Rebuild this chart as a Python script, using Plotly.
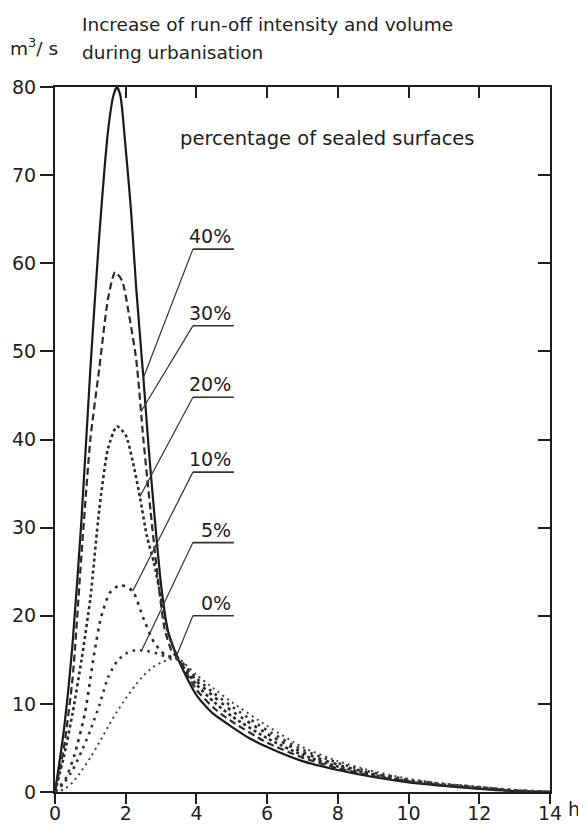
import numpy as np
import plotly.graph_objects as go

# ---------------- data ----------------
labels = ["40%", "30%", "20%", "10%", "5%", "0%"]

hours_40 = [0, 0.25, 0.5, 0.75, 1.0, 1.25, 1.5, 1.65, 1.75, 1.85, 2.0, 2.15, 2.3, 2.5, 2.65,
            2.8, 3.0, 3.2, 3.5, 3.75, 4.0, 4.25, 4.5, 5.0, 5.5, 6.0, 7.0, 8.0, 9.0, 10.0,
            11.0, 12.0, 13.0, 14.0]
flow_40 = [0, 7, 17, 31, 48, 63, 75, 79, 80, 79, 73, 66, 57, 47, 39,
           32, 23.5, 18.2, 14.9, 12.8, 11, 9.8, 8.8, 7.4, 6.1, 5.1, 3.5, 2.5, 1.7, 1.1,
           0.7, 0.35, 0.1, 0]

hours_30 = [0, 0.25, 0.5, 0.75, 1.0, 1.25, 1.5, 1.7, 1.9, 2.1, 2.3, 2.5, 2.7, 2.9, 3.1,
            3.3, 3.5, 4.0, 4.5, 5.0, 6.0, 7.0, 8.0, 9.0, 10.0, 11.0, 12.0, 13.0, 14.0]
flow_30 = [0, 5, 13, 27, 40, 48, 56, 59, 58, 54, 49, 40, 32, 24.5, 18.5,
           16, 15, 11.6, 9.5, 8, 5.6, 3.9, 2.7, 1.8, 1.2, 0.75, 0.4, 0.12, 0]

hours_20 = [0, 0.25, 0.5, 0.75, 1.0, 1.25, 1.5, 1.75, 2.0, 2.2, 2.4, 2.6, 2.8, 3.0, 3.2,
            3.5, 4.0, 4.5, 5.0, 6.0, 7.0, 8.0, 9.0, 10.0, 11.0, 12.0, 13.0, 14.0]
flow_20 = [0, 4, 9, 15, 22, 32, 39, 41.5, 40.5, 37.5, 33.5, 29, 26, 22, 18,
           15, 12.2, 10.2, 8.6, 6.1, 4.2, 2.9, 1.95, 1.25, 0.8, 0.45, 0.15, 0]

hours_10 = [0, 0.3, 0.55, 0.85, 1.1, 1.3, 1.55, 1.85, 2.2, 2.5, 2.8, 3.1, 3.5, 4.0, 4.5,
            5.0, 6.0, 7.0, 8.0, 9.0, 10.0, 11.0, 12.0, 13.0, 14.0]
flow_10 = [0, 1.5, 4.2, 9, 15.5, 19.8, 22.6, 23.5, 22.8, 19.7, 17, 15.6, 15, 12.6, 10.8,
           9.2, 6.6, 4.5, 3.1, 2.05, 1.3, 0.85, 0.5, 0.18, 0]

hours_5 = [0, 0.25, 0.5, 0.75, 1.0, 1.25, 1.5, 1.75, 2.0, 2.3, 2.6, 2.9, 3.2, 3.5, 4.0,
           4.5, 5.0, 6.0, 7.0, 8.0, 9.0, 10.0, 11.0, 12.0, 13.0, 14.0]
flow_5 = [0, 1, 2.5, 4.6, 7, 9.8, 13, 14.8, 15.7, 16.1, 16, 15.7, 15.3, 15, 12.9,
          11.2, 9.7, 7, 4.8, 3.3, 2.2, 1.4, 0.9, 0.55, 0.2, 0]

hours_0 = [0, 0.25, 0.5, 0.75, 1.0, 1.25, 1.5, 1.75, 2.0, 2.25, 2.5, 2.75, 3.0, 3.3, 3.5,
           4.0, 4.5, 5.0, 6.0, 7.0, 8.0, 9.0, 10.0, 11.0, 12.0, 13.0, 14.0]
flow_0 = [0, 0.3, 1.1, 2.4, 3.9, 5.6, 7.4, 9.1, 10.6, 12, 13.2, 14.1, 14.7, 15.1, 15.1,
          13.3, 11.7, 10.2, 7.5, 5.1, 3.5, 2.35, 1.5, 0.95, 0.6, 0.25, 0.05]

x_ticks = [0, 2, 4, 6, 8, 10, 12, 14]
y_ticks = [0, 10, 20, 30, 40, 50, 60, 70, 80]

# ---------------- styling / layout ----------------
INK = "#1e1e1e"
FONT = "DejaVu Sans"

hours = [hours_40, hours_30, hours_20, hours_10, hours_5, hours_0]
flows = [flow_40, flow_30, flow_20, flow_10, flow_5, flow_0]
line_styles = [
    dict(dash="solid", width=2.2, color="#1a1a1a"),
    dict(dash="7px,4px", width=2.2, color="#2a2a2a"),
    dict(dash="3px,3px", width=2.6, color="#2a2a2a"),
    dict(dash="3px,5px", width=2.6, color="#2a2a2a"),
    dict(dash="2.5px,5px", width=2.6, color="#333333"),
    dict(dash="2px,4px", width=2.0, color="#444444"),
]
# where each label's leader line touches its curve (hour)
leader_hour = [2.5, 2.43, 2.4, 2.2, 2.45, 3.4]
# vertical placement of the label underlines (axis units)
label_level = [61.6, 52.9, 44.8, 36.3, 28.3, 20.0]
under_x0, under_x1, text_right = 3.9, 5.06, 5.03

fig = go.Figure()
for h, f, st in zip(hours, flows, line_styles):
    fig.add_trace(go.Scatter(
        x=h, y=f, mode="lines",
        line=dict(color=st["color"], width=st["width"], dash=st["dash"],
                  shape="spline", smoothing=0.6),
        showlegend=False, hoverinfo="skip"))

# dummy trace so that the mirrored (inside-tick) axes exist
fig.add_trace(go.Scatter(x=[None], y=[None], xaxis="x2", yaxis="y2",
                         showlegend=False, hoverinfo="skip"))

shapes = []
annotations = []
for lab, h, f, lx, ly in zip(labels, hours, flows, leader_hour, label_level):
    cy = float(np.interp(lx, h, f))
    shapes.append(dict(type="line", xref="x", yref="y", x0=under_x0, x1=under_x1, y0=ly, y1=ly,
                       line=dict(color="#333", width=1.6)))
    shapes.append(dict(type="line", xref="x", yref="y", x0=under_x0, y0=ly, x1=lx, y1=cy,
                       line=dict(color="#333", width=1.2)))
    annotations.append(dict(text=lab, x=text_right, y=ly, xref="x", yref="y",
                            xanchor="right", yanchor="bottom", showarrow=False, yshift=0,
                            font=dict(family=FONT, size=19, color=INK)))

annotations += [
    dict(text="percentage of sealed surfaces", x=7.72, y=74.2, xref="x", yref="y",
         xanchor="center", yanchor="middle", showarrow=False,
         font=dict(family=FONT, size=19.5, color=INK)),
    dict(text="Increase of run-off intensity and volume", x=0.0505, y=1.088,
         xref="paper", yref="paper", xanchor="left", yanchor="middle", showarrow=False,
         font=dict(family=FONT, size=18.5, color=INK)),
    dict(text="during urbanisation", x=0.0505, y=1.0496,
         xref="paper", yref="paper", xanchor="left", yanchor="middle", showarrow=False,
         font=dict(family=FONT, size=18.5, color=INK)),
    dict(text="m<sup>3</sup>/ s", x=-0.095, y=1.057,
         xref="paper", yref="paper", xanchor="left", yanchor="middle", showarrow=False,
         font=dict(family=FONT, size=18.5, color=INK)),
    dict(text="h", x=1.048, y=-0.024,
         xref="paper", yref="paper", xanchor="center", yanchor="middle", showarrow=False,
         font=dict(family=FONT, size=19, color=INK)),
]

axis_common = dict(showgrid=False, zeroline=False, tickcolor=INK, tickwidth=2, automargin=False,
                   tickfont=dict(family=FONT, size=19, color=INK))

# the page body adds an 8px offset, so the figure is 8px smaller and margins compensate
fig.update_layout(
    width=578, height=817,
    margin=dict(l=47, r=36, t=79, b=33, autoexpand=False),
    plot_bgcolor="white", paper_bgcolor="white",
    font=dict(family=FONT, size=19, color=INK),
    xaxis=dict(range=[0, 14], tickvals=x_ticks, ticks="outside", ticklen=10,
               ticklabelstandoff=-7,
               showline=True, linewidth=2, linecolor=INK, mirror=True, **axis_common),
    yaxis=dict(range=[0, 80], tickvals=y_ticks, ticks="outside", ticklen=13,
               showline=True, linewidth=2, linecolor=INK, mirror=True, **axis_common),
    xaxis2=dict(overlaying="x", side="top", anchor="y2", range=[0, 14],
                tickvals=x_ticks[1:-1], ticks="inside", ticklen=11,
                showticklabels=False, showline=False, **axis_common),
    yaxis2=dict(overlaying="y", side="right", anchor="x2", range=[0, 80],
                tickvals=y_ticks[1:-1], ticks="inside", ticklen=12,
                showticklabels=False, showline=False, **axis_common),
    shapes=shapes,
    annotations=annotations,
)

fig.write_html("out.html")
